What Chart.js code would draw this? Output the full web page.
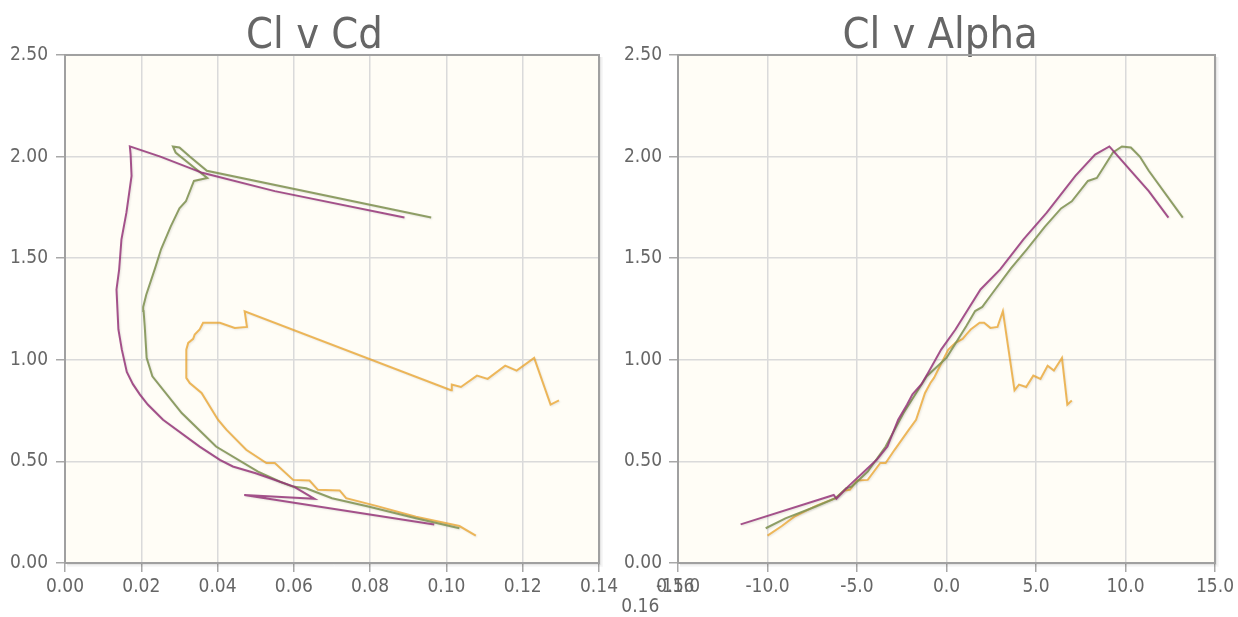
<!DOCTYPE html>
<html>
<head>
<meta charset="utf-8">
<script src="https://cdn.jsdelivr.net/npm/chart.js@4.4.1/dist/chart.umd.min.js"></script>
<style>
  html, body { margin: 0; padding: 0; background: #fff; overflow: hidden; }
  #wrap { position: relative; width: 1238px; height: 617px; }
  #chartCd { position: absolute; left: 0; top: 0; }
  #chartAlpha { position: absolute; left: 620px; top: 0; }
</style>
</head>
<body>
<div id="wrap">
  <canvas id="chartCd" width="700" height="617"></canvas>
  <canvas id="chartAlpha" width="618" height="617"></canvas>
</div>
<script>
// polar data: alpha (deg), Cl, Cd for each curve
var purpleAlpha = [-11.5, -6.3, -6.15, -5.5, -4.7, -4.3, -3.9, -3.3, -2.7, -2.2, -1.9, -1.4, -1.0, -0.3, 0.5, 1.9, 3.0, 4.3, 5.6, 7.2, 8.3, 9.1, 9.6, 10.4, 11.3, 12.4];
var purpleCl    = [0.19, 0.335, 0.316, 0.376, 0.442, 0.475, 0.508, 0.573, 0.705, 0.78, 0.83, 0.88, 0.94, 1.05, 1.149, 1.346, 1.445, 1.593, 1.724, 1.905, 2.01, 2.05, 2.0, 1.92, 1.83, 1.70];
var purpleCd    = [0.0968, 0.047, 0.0654, 0.060, 0.050, 0.044, 0.0406, 0.0353, 0.0257, 0.0217, 0.0196, 0.0178, 0.0162, 0.0149, 0.0140, 0.0135, 0.0142, 0.0148, 0.0161, 0.01745, 0.0172, 0.0170, 0.025, 0.036, 0.055, 0.089];

var greenAlpha = [-10.1, -9.0, -7.3, -6.2, -5.6, -5.3, -5.0, -4.4, -3.4, -2.4, -1.1, 0.0, 1.1, 1.6, 2.0, 2.5, 3.6, 4.5, 5.5, 6.4, 7.0, 7.9, 8.4, 8.8, 9.3, 9.8, 10.3, 10.8, 11.3, 13.2];
var greenCl    = [0.171, 0.22, 0.278, 0.319, 0.368, 0.376, 0.40, 0.45, 0.573, 0.738, 0.919, 1.01, 1.165, 1.24, 1.26, 1.32, 1.45, 1.545, 1.655, 1.745, 1.78, 1.88, 1.895, 1.95, 2.02, 2.05, 2.045, 2.0, 1.93, 1.70];
var greenCd    = [0.1034, 0.092, 0.0795, 0.070, 0.0632, 0.0597, 0.0564, 0.0506, 0.0396, 0.0306, 0.0229, 0.0214, 0.0209, 0.0206, 0.0205, 0.0213, 0.0236, 0.0252, 0.0277, 0.0300, 0.0317, 0.0338, 0.0373, 0.0336, 0.0290, 0.0283, 0.0300, 0.0327, 0.0372, 0.096];

var orangeAlpha = [-10.0, -9.2, -8.5, -7.3, -6.2, -5.7, -5.4, -5.0, -4.4, -3.7, -3.4, -2.9, -2.1, -1.7, -1.2, -0.9, -0.7, 0.1, 0.5, 0.9, 1.1, 1.35, 1.85, 2.1, 2.45, 2.85, 3.15, 3.8, 4.05, 4.45, 4.85, 5.25, 5.65, 6.0, 6.45, 6.75, 7.0];
var orangeCl    = [0.135, 0.182, 0.228, 0.281, 0.319, 0.357, 0.36, 0.406, 0.409, 0.492, 0.492, 0.557, 0.656, 0.705, 0.837, 0.886, 0.911, 1.05, 1.083, 1.103, 1.124, 1.149, 1.182, 1.182, 1.157, 1.162, 1.239, 0.85, 0.878, 0.866, 0.922, 0.906, 0.971, 0.947, 1.009, 0.779, 0.80];
var orangeCd    = [0.1077, 0.1034, 0.092, 0.0816, 0.0737, 0.072, 0.0663, 0.0641, 0.0598, 0.055, 0.0528, 0.0475, 0.0423, 0.0401, 0.0358, 0.0327, 0.0318, 0.0318, 0.0323, 0.0336, 0.034, 0.0353, 0.0362, 0.0406, 0.0445, 0.0477, 0.0471, 0.1012, 0.1014, 0.1038, 0.108, 0.1108, 0.1154, 0.1184, 0.123, 0.1273, 0.1295];

var seriesNames  = ["Purple", "Green", "Orange"];
var seriesColors = ["rgba(149, 53, 121, 0.85)", "rgba(131, 149, 87, 0.9)", "rgba(234, 162, 40, 0.75)"];

var clTicks    = [0, 0.5, 1.0, 1.5, 2.0, 2.5];
var cdTicks    = [0, 0.02, 0.04, 0.06, 0.08, 0.10, 0.12, 0.14];
var alphaTicks = [-15, -10, -5, 0, 5, 10, 15];
var strayCdTick = 0.16;   // the extra label the original drew past the end of the Cd axis

var FONT = "'DejaVu Sans Condensed', 'DejaVu Sans', sans-serif";
var TICK_SIZE = 19;
var TICK_LEN = 9;
var TICK_PAD = 4;

Chart.defaults.font.family = FONT;
Chart.defaults.color = "#666";

function pairs(xs, ys)
{
	return xs.map(function (x, i) { return { x: x, y: ys[i] }; });
}

var plotFrame = {
	id: "plotFrame",
	beforeDraw: function (chart) {
		var a = chart.chartArea, ctx = chart.ctx;
		ctx.save();
		ctx.fillStyle = "#fffdf6";
		ctx.fillRect(a.left, a.top, a.right - a.left, a.bottom - a.top);
		ctx.restore();
	},
	afterDraw: function (chart) {
		var a = chart.chartArea, ctx = chart.ctx;
		ctx.save();
		// soft shadow on the right and bottom edges
		for (var i = 1; i <= 3; i++) {
			ctx.strokeStyle = "rgba(0, 0, 0, " + (0.10 / i) + ")";
			ctx.lineWidth = 1;
			ctx.beginPath();
			ctx.moveTo(a.right + i + 0.5, a.top + 2);
			ctx.lineTo(a.right + i + 0.5, a.bottom + i + 0.5);
			ctx.lineTo(a.left + 2, a.bottom + i + 0.5);
			ctx.stroke();
		}
		ctx.strokeStyle = "#a0a0a0";
		ctx.lineWidth = 2;
		ctx.strokeRect(a.left, a.top, a.right - a.left, a.bottom - a.top);
		ctx.restore();
	}
};

var lineShadow = {
	id: "lineShadow",
	beforeDatasetsDraw: function (chart) {
		var ctx = chart.ctx;
		ctx.save();
		ctx.shadowColor = "rgba(0, 0, 0, 0.12)";
		ctx.shadowBlur = 2;
		ctx.shadowOffsetX = 1;
		ctx.shadowOffsetY = 1;
	},
	afterDatasetsDraw: function (chart) {
		chart.ctx.restore();
	}
};

var strayLabels = {
	id: "strayLabels",
	afterDraw: function (chart) {
		var xs = chart.scales.x, ctx = chart.ctx;
		var px = xs.getPixelForValue(strayCdTick);
		var py = xs.top + TICK_LEN + TICK_PAD + TICK_SIZE * 1.2 / 2;
		var txt = strayCdTick.toFixed(2);
		ctx.save();
		ctx.font = TICK_SIZE + "px " + FONT;
		ctx.fillStyle = "#666";
		ctx.textAlign = "center";
		ctx.textBaseline = "middle";
		ctx.fillText(txt, px, py);
		ctx.fillText(txt, px - 35, py + 20);
		ctx.restore();
	}
};

// yWidth is kept narrow so the title lands where the original had it;
// the y labels are then mirrored with a negative padding so they are not clipped
function construyeGrafica(canvasId, titulo, xValues, xTicks, xDigits, padLeft, padRight, yWidth, yLabelPad, extraPlugins)
{
	var ys = [purpleCl, greenCl, orangeCl];
	var datasets = [];
	for (var i = 0; i < seriesNames.length; i++) {
		datasets.push({
			label: seriesNames[i],
			data: pairs(xValues[i], ys[i]),
			showLine: true,
			fill: false,
			borderColor: seriesColors[i],
			backgroundColor: seriesColors[i],
			borderWidth: 2,
			pointRadius: 0,
			tension: 0
		});
	}

	var gridOpts = {
		color: "#dadada",
		lineWidth: 1.5,
		tickLength: TICK_LEN,
		tickColor: "#a8a8a8",
		tickWidth: 1.5
	};

	return new Chart(document.getElementById(canvasId), {
		type: "scatter",
		data: { datasets: datasets },
		options: {
			responsive: false,
			animation: false,
			layout: { padding: { left: padLeft, right: padRight, top: 0, bottom: 0 } },
			plugins: {
				legend: { display: false },
				tooltip: { enabled: false },
				title: {
					display: true,
					text: titulo,
					color: "#666",
					font: { size: 43, weight: "normal", lineHeight: 0.86 },
					padding: { top: 18, bottom: 0 }
				}
			},
			scales: {
				x: {
					type: "linear",
					min: xTicks[0],
					max: xTicks[xTicks.length - 1],
					afterBuildTicks: function (s) { s.ticks = xTicks.map(function (v) { return { value: v }; }); },
					afterFit: function (s) { s.height = 54; },
					grid: gridOpts,
					border: { display: false },
					ticks: {
						color: "#666",
						font: { size: TICK_SIZE },
						padding: TICK_PAD,
						maxRotation: 0,
						autoSkip: false,
						callback: function (v) { return Number(v).toFixed(xDigits); }
					}
				},
				y: {
					type: "linear",
					min: clTicks[0],
					max: clTicks[clTicks.length - 1],
					afterBuildTicks: function (s) { s.ticks = clTicks.map(function (v) { return { value: v }; }); },
					afterFit: function (s) { s.width = yWidth; },
					grid: gridOpts,
					border: { display: false },
					ticks: {
						color: "#666",
						font: { size: TICK_SIZE },
						mirror: true,
						crossAlign: "near",
						padding: yLabelPad,
						autoSkip: false,
						callback: function (v) { return Number(v).toFixed(2); }
					}
				}
			}
		},
		plugins: [plotFrame, lineShadow].concat(extraPlugins)
	});
}

construyeGrafica("chartCd", "Cl v Cd", [purpleCd, greenCd, orangeCd], cdTicks, 2, 30, 101, 35, -55, [strayLabels]);
construyeGrafica("chartAlpha", "Cl v Alpha", [purpleAlpha, greenAlpha, orangeAlpha], alphaTicks, 1, 45, 23, 13, -54, []);
</script>
</body>
</html>
